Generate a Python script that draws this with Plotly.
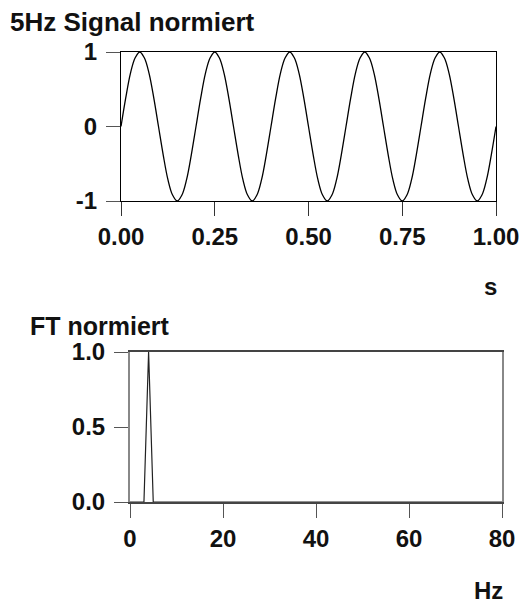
import plotly.graph_objects as go

# ---- data ----
t_s = [round(k * 0.0125, 4) for k in range(81)]
signal = [
    0.00, 0.38, 0.71, 0.92, 1.00, 0.92, 0.71, 0.38,
    0.00, -0.38, -0.71, -0.92, -1.00, -0.92, -0.71, -0.38,
    0.00, 0.38, 0.71, 0.92, 1.00, 0.92, 0.71, 0.38,
    0.00, -0.38, -0.71, -0.92, -1.00, -0.92, -0.71, -0.38,
    0.00, 0.38, 0.71, 0.92, 1.00, 0.92, 0.71, 0.38,
    0.00, -0.38, -0.71, -0.92, -1.00, -0.92, -0.71, -0.38,
    0.00, 0.38, 0.71, 0.92, 1.00, 0.92, 0.71, 0.38,
    0.00, -0.38, -0.71, -0.92, -1.00, -0.92, -0.71, -0.38,
    0.00, 0.38, 0.71, 0.92, 1.00, 0.92, 0.71, 0.38,
    0.00, -0.38, -0.71, -0.92, -1.00, -0.92, -0.71, -0.38,
    0.00,
]
freq_hz = list(range(81))
ft_values = [
    0, 0, 0, 0, 1, 0, 0, 0, 0, 0,
    0, 0, 0, 0, 0, 0, 0, 0, 0, 0,
    0, 0, 0, 0, 0, 0, 0, 0, 0, 0,
    0, 0, 0, 0, 0, 0, 0, 0, 0, 0,
    0, 0, 0, 0, 0, 0, 0, 0, 0, 0,
    0, 0, 0, 0, 0, 0, 0, 0, 0, 0,
    0, 0, 0, 0, 0, 0, 0, 0, 0, 0,
    0, 0, 0, 0, 0, 0, 0, 0, 0, 0,
    0,
]
x1_ticks = [0, 0.25, 0.5, 0.75, 1.0]
x1_labels = ["0.00", "0.25", "0.50", "0.75", "1.00"]
y1_ticks = [-1, 0, 1]
y1_labels = ["-1", "0", "1"]
x2_ticks = [0, 20, 40, 60, 80]
x2_labels = ["0", "20", "40", "60", "80"]
y2_ticks = [0, 0.5, 1.0]
y2_labels = ["0.0", "0.5", "1.0"]

W, H = 526, 606
FONT = "Liberation Sans, Arial, sans-serif"
TICKFONT = dict(family=FONT, size=24, color="#111111", weight="bold")

fig = go.Figure()
fig.add_trace(go.Scatter(x=t_s, y=signal, mode="lines", line=dict(color="#000000", width=1.3, shape="spline", smoothing=1.0),
                         xaxis="x", yaxis="y", showlegend=False, hoverinfo="skip"))
fig.add_trace(go.Scatter(x=freq_hz, y=ft_values, mode="lines", line=dict(color="#222222", width=1.2),
                         xaxis="x2", yaxis="y2", showlegend=False, hoverinfo="skip"))

def px(a, b):
    return [a / W, b / W]

def py(top, bottom):
    return [1 - bottom / H, 1 - top / H]

common = dict(showgrid=False, zeroline=False, ticks="outside", ticklen=14, tickwidth=1,
              tickfont=TICKFONT, showline=True, mirror=True, automargin=False)

fig.update_layout(
    template="none",
    width=W, height=H,
    margin=dict(l=0, r=0, t=0, b=0, pad=0),
    paper_bgcolor="white", plot_bgcolor="white",
    xaxis=dict(domain=px(121, 496), range=[0, 1], tickvals=x1_ticks, ticktext=x1_labels,
               linecolor="#000000", tickcolor="#333333", linewidth=1, anchor="y", ticklabelstandoff=0, **common),
    yaxis=dict(domain=py(52, 201), range=[-1, 1], tickvals=y1_ticks, ticktext=y1_labels,
               linecolor="#000000", tickcolor="#555555", linewidth=1, anchor="x", ticklabelstandoff=4, **common),
    xaxis2=dict(domain=px(130, 502), range=[0, 80], tickvals=x2_ticks, ticktext=x2_labels,
                linecolor="#444444", tickcolor="#555555", linewidth=2, anchor="y2", ticklabelstandoff=0, **common),
    yaxis2=dict(domain=py(352, 502), range=[0, 1.0], tickvals=y2_ticks, ticktext=y2_labels,
                linecolor="#888888", tickcolor="#555555", linewidth=2, anchor="x2", ticklabelstandoff=4, **common),
    annotations=[
        dict(text="<b>5Hz Signal normiert</b>", x=8 / W, y=1 - 5 / H, xref="paper", yref="paper",
             xanchor="left", yanchor="top", showarrow=False, font=dict(family=FONT, size=26, color="#111111")),
        dict(text="<b>s</b>", x=499 / W, y=1 - 302 / H, xref="paper", yref="paper",
             xanchor="right", yanchor="bottom", showarrow=False, font=dict(family=FONT, size=24, color="#111111")),
        dict(text="<b>FT normiert</b>", x=28 / W, y=1 - 310 / H, xref="paper", yref="paper",
             xanchor="left", yanchor="top", showarrow=False, font=dict(family=FONT, size=25, color="#111111")),
        dict(text="<b>Hz</b>", x=505 / W, y=1 - 606 / H, xref="paper", yref="paper",
             xanchor="right", yanchor="bottom", showarrow=False, font=dict(family=FONT, size=24, color="#111111")),
    ],
)

fig.write_html("out.html")
